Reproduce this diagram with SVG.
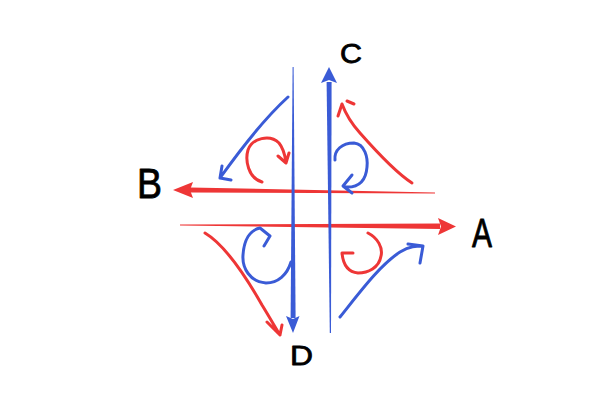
<svg xmlns="http://www.w3.org/2000/svg" width="602" height="410" viewBox="0 0 602 410">
<style>
.lbl{font-family:"Liberation Sans",Arial,sans-serif;fill:#000;stroke:#000;stroke-width:0.8;stroke-linejoin:round}
.b{stroke:#3a5bd6;fill:none;stroke-width:3;stroke-linecap:round;stroke-linejoin:round}
.r{stroke:#ee3636;fill:none;stroke-width:3;stroke-linecap:round;stroke-linejoin:round}
.bf{fill:#3a5bd6}
.rf{fill:#ee3636}
</style>
<rect width="602" height="410" fill="#fff"/>
<g id="connectors">
  <!-- main axes -->
  <g id="arrow-B">
    <polygon class="rf" points="190,187.5 435,192.6 435,193.6 190,192.5"/>
    <polygon class="rf" points="173,190 193,182 190,190 193,198"/>
  </g>
  <g id="arrow-A">
    <polygon class="rf" points="180,224.6 440,223.6 440,229 180,225.6"/>
    <polygon class="rf" points="456,226.5 438,218 441,226.5 438,235"/>
  </g>
  <g id="arrow-C">
    <polygon class="bf" points="326.6,82 331.6,82 331,333 329.8,333"/>
    <polygon class="bf" points="329,67 321,83 329,80 337,83"/>
  </g>
  <g id="arrow-D">
    <polygon class="bf" points="292.6,67 293.6,67 295.6,318 290.6,318"/>
    <polygon class="bf" points="293,333 286,316 293,319 299.5,316"/>
  </g>
  <!-- curved flows -->
  <path class="b" d="M288,97 C266,117 245,143 220,178 M222,166 L220,178 L231,180"/>
  <path class="r" d="M262,182 C248,178 245,160 248,150 C252,138 270,134 279,143 C284,149 285,156 286,162 M278,156 L286,163 L289,153"/>
  <path class="r" d="M412,183 C395,172 375,150 360,133 C350,122 345,112 342,104 M338,116 L342,104 M347,101 L354,104"/>
  <path class="b" d="M335,160 C334,150 342,143 354,143 C365,144 368,158 367,167 C366,180 360,188 345,187 M352,175 L343,186 L352,193"/>
  <path class="r" d="M205,233 C225,245 245,275 262,305 C270,318 275,327 280,335 M267,322 L280,335 L282,325"/>
  <path class="b" d="M291,262 C287,275 278,283 266,283 C250,282 242,268 243,255 C244,240 250,230 260,228 L270,236 L264,246"/>
  <path class="r" d="M368,233 C378,238 383,248 381,256 C379,268 368,273 358,273 C348,272 343,264 342,253 L353,253"/>
  <path class="b" d="M340,317 C360,292 380,265 400,252 C410,246 416,246 423,246 M408,244 L423,246 L420,263"/>
</g>
<g id="node-A"><text class="lbl" x="472" y="247" font-size="40" textLength="20" lengthAdjust="spacingAndGlyphs">A</text></g>
<g id="node-B"><text class="lbl" x="137" y="198" font-size="42" textLength="25" lengthAdjust="spacingAndGlyphs">B</text></g>
<g id="node-C"><text class="lbl" x="340" y="63" font-size="28" textLength="22" lengthAdjust="spacingAndGlyphs">C</text></g>
<g id="node-D"><text class="lbl" x="290" y="365" font-size="28" textLength="23" lengthAdjust="spacingAndGlyphs">D</text></g>
</svg>
